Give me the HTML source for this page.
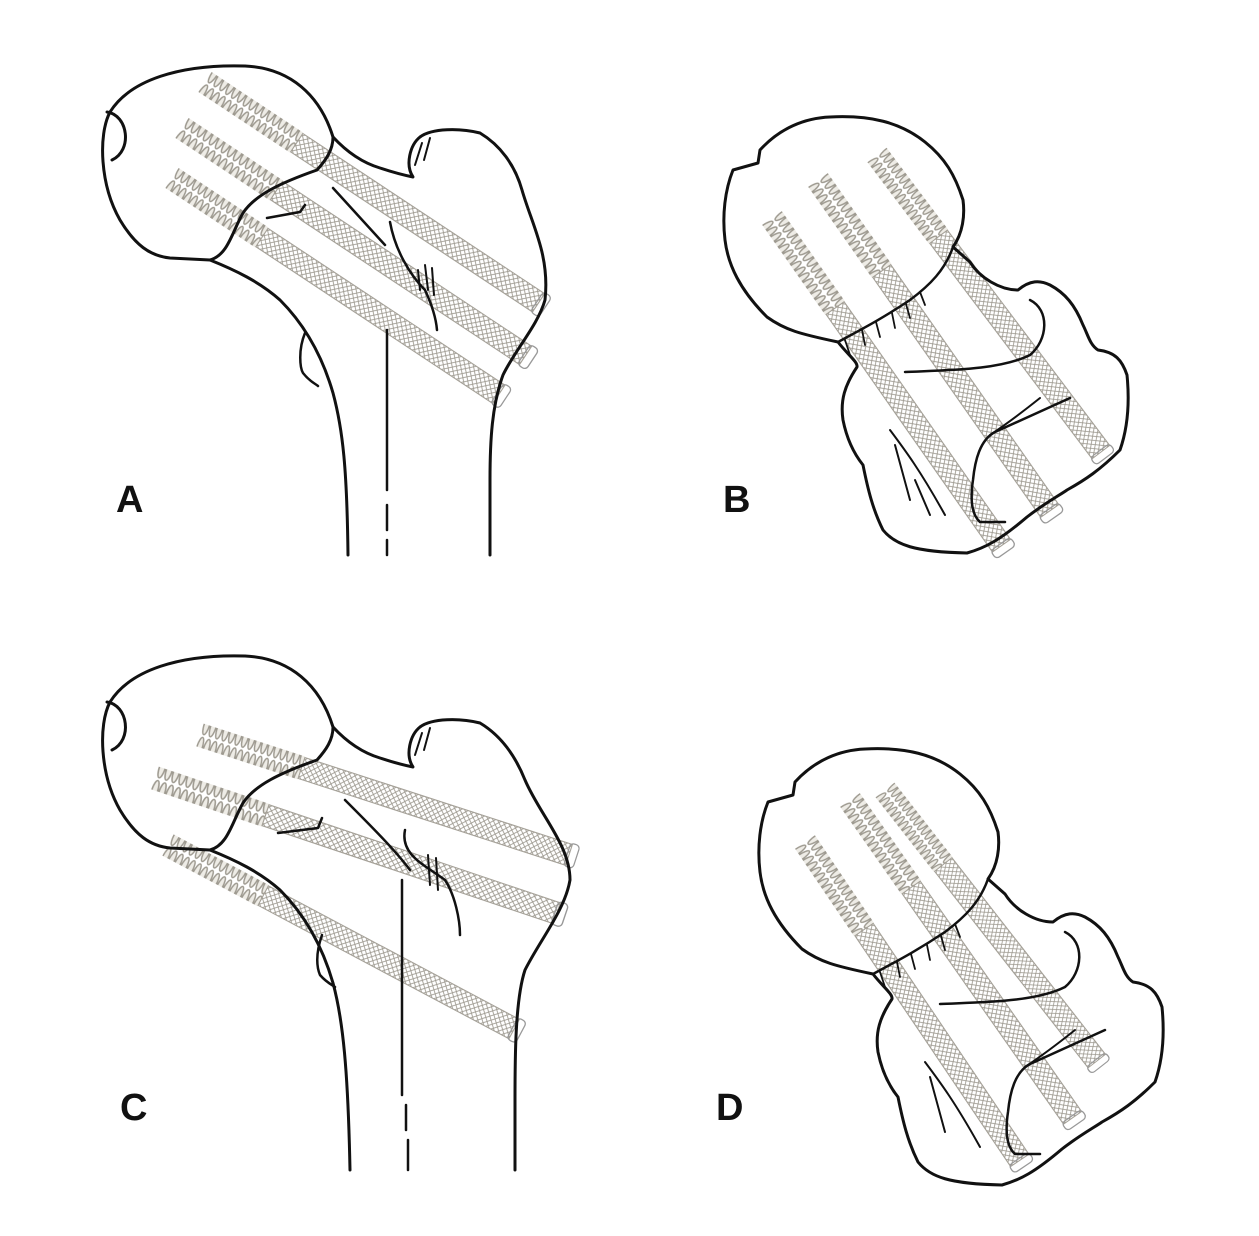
<!DOCTYPE html>
<html><head><style>
html,body{margin:0;padding:0;background:#fff;}
svg{display:block;}
text{font-family:"Liberation Sans",sans-serif;font-weight:bold;font-size:38px;fill:#111;}
</style></head><body>
<svg width="1259" height="1236" viewBox="0 0 1259 1236" xmlns="http://www.w3.org/2000/svg">
<defs>
<pattern id="hatch" patternUnits="userSpaceOnUse" width="6" height="6">
<path d="M0,0 L6,6 M6,0 L0,6" stroke="#9a968c" stroke-width="0.8"/>
</pattern>
<pattern id="thr" patternUnits="userSpaceOnUse" width="7" height="24">
<ellipse cx="3.5" cy="12" rx="2.8" ry="10.5" fill="#eeece6" stroke="#9e9a90" stroke-width="1.5"/>
</pattern>
<g id="scr">
<rect x="0" y="-12" width="110" height="24" fill="url(#thr)"/>
<rect x="110" y="-11" width="290" height="22" fill="url(#hatch)" stroke="#a5a198" stroke-width="1.1"/>
<rect x="398" y="-12" width="10" height="24" rx="4" fill="none" stroke="#999" stroke-width="1.3"/>
</g>
</defs>

<use href="#scr" transform="translate(205,82) rotate(33.5)"/>
<use href="#scr" transform="translate(182,128) rotate(33.5) scale(1.03,1)"/>
<use href="#scr" transform="translate(172,178) rotate(33.5) scale(0.98,1)"/>
<use href="#scr" transform="translate(200,735) rotate(18) scale(0.97,1)"/>
<use href="#scr" transform="translate(155,778) rotate(18.6) scale(1.06,1)"/>
<use href="#scr" transform="translate(168,845) rotate(28) scale(0.98,1)"/>
<use href="#scr" transform="translate(772,218) rotate(55) scale(1.0,1)"/>
<use href="#scr" transform="translate(818,180) rotate(55) scale(1.01,1)"/>
<use href="#scr" transform="translate(877,155) rotate(53) scale(0.93,1)"/>
<use href="#scr" transform="translate(805,842) rotate(56) scale(0.96,1)"/>
<use href="#scr" transform="translate(850,800) rotate(55) scale(0.97,1)"/>
<use href="#scr" transform="translate(885,790) rotate(52) scale(0.86,1)"/>

<g fill="none" stroke="#111" stroke-width="3" stroke-linejoin="round" stroke-linecap="round">
<g>
<path d="M333,137 C320,95 290,68 245,66 C180,64 130,80 110,112 C98,135 100,185 120,220 C135,245 150,256 170,258 L210,260 C228,255 232,232 243,213 C255,195 280,183 317,170 C326,160 333,150 333,137 Z"/>
<path d="M107,112 C128,115 133,150 112,160"/>
<path d="M333,137 C345,150 360,162 380,168 C395,173 408,176 413,177 C405,165 410,145 420,137 C432,128 460,128 480,133 C500,145 515,165 522,190 C532,225 550,255 545,300 C538,325 515,350 503,375 C492,405 490,440 490,480 L490,555"/>
<path d="M210,260 C235,270 260,282 280,300 C305,325 322,355 333,393 C343,430 347,470 348,555"/>
<path d="M305,333 C298,350 300,368 303,373 C310,382 316,384 318,386" stroke-width="2.5"/>
<path d="M387,330 L387,490 M387,505 L387,530 M387,540 L387,555" stroke-width="2.5"/>
<path d="M267,218 L300,212 L305,205" stroke-width="2.5"/>
<path d="M333,188 L385,245 M390,222 C395,250 410,275 425,290 C432,305 436,318 437,330" stroke-width="2.5"/>
<path d="M418,270 L420,290 M425,265 L428,290 M432,268 L434,295" stroke-width="2"/>
<path d="M422,143 L415,165 M430,138 L424,160" stroke-width="2"/>
</g>
<g transform="translate(0,590)">
<path d="M333,137 C320,95 290,68 245,66 C180,64 130,80 110,112 C98,135 100,185 120,220 C135,245 150,256 170,258 L210,260 C228,255 232,232 243,213 C255,195 280,183 317,170 C326,160 333,150 333,137 Z"/>
<path d="M107,112 C128,115 133,150 112,160"/>
<path d="M333,137 C345,150 360,162 380,168 C395,173 408,176 413,177 C405,165 410,145 420,137 C432,128 460,128 480,133 C500,145 515,165 525,190 C540,225 570,255 570,290 C565,320 540,350 525,380 C515,410 515,470 515,510 L515,580"/>
<path d="M210,260 C235,270 260,282 280,300 C305,325 322,355 333,393 C343,430 348,480 350,580"/>
<path d="M322,345 C315,365 317,378 320,385 C326,392 332,395 335,397" stroke-width="2.5"/>
<path d="M402,290 L402,505 M406,515 L406,540 M408,550 L408,580" stroke-width="2.5"/>
<path d="M278,243 L318,238 L322,228" stroke-width="2.5"/>
<path d="M345,210 C370,235 395,260 410,280 M405,240 C400,265 425,275 445,290 C455,305 460,330 460,345" stroke-width="2.5"/>
<path d="M428,265 L430,295 M436,268 L438,300" stroke-width="2"/>
<path d="M422,143 L415,165 M430,138 L424,160" stroke-width="2"/>
</g>
<g>
<path d="M953,247 C963,233 965,215 963,200 C955,175 945,158 925,142 C900,122 870,115 830,117 C805,118 780,128 760,150 L758,163 L733,170 C725,190 722,215 725,240 C728,265 740,290 767,317 C785,330 800,334 838,342 C848,355 858,362 857,367 C845,385 840,400 843,420 C847,440 855,455 863,465 C868,490 873,510 883,530 C895,545 915,552 967,553 C985,548 1000,540 1027,517 C1045,503 1060,495 1067,490 C1085,480 1100,470 1120,450 C1127,430 1130,405 1127,375 C1122,360 1115,352 1098,350 C1090,345 1088,335 1083,325 C1075,305 1065,293 1050,285 C1040,280 1030,280 1018,290 C1000,290 980,278 970,262 Z"/>
<path d="M838,342 C860,330 880,320 910,300 C930,285 945,270 953,247" stroke-width="2.5"/>
<path d="M1030,300 C1050,310 1048,340 1030,355 C1000,370 950,370 905,372" stroke-width="2.5"/>
<path d="M1070,398 L995,432 C980,440 975,460 973,480 C970,500 972,515 980,522 L1005,522" stroke-width="2.5"/>
<path d="M1040,398 C1025,410 1005,425 990,435" stroke-width="2"/>
<path d="M890,430 C905,450 920,470 945,515 M895,445 L910,500 M915,480 L930,515" stroke-width="2"/>
<path d="M850,355 L845,340 M865,345 L862,330 M880,337 L876,322 M895,328 L892,313 M910,318 L906,304 M925,305 L920,292" stroke-width="1.8"/>
</g>
<g transform="translate(35,632)">
<path d="M953,247 C963,233 965,215 963,200 C955,175 945,158 925,142 C900,122 870,115 830,117 C805,118 780,128 760,150 L758,163 L733,170 C725,190 722,215 725,240 C728,265 740,290 767,317 C785,330 800,334 838,342 C848,355 858,362 857,367 C845,385 840,400 843,420 C847,440 855,455 863,465 C868,490 873,510 883,530 C895,545 915,552 967,553 C985,548 1000,540 1027,517 C1045,503 1060,495 1067,490 C1085,480 1100,470 1120,450 C1127,430 1130,405 1127,375 C1122,360 1115,352 1098,350 C1090,345 1088,335 1083,325 C1075,305 1065,293 1050,285 C1040,280 1030,280 1018,290 C1000,290 980,278 970,262 Z"/>
<path d="M838,342 C860,330 880,320 910,300 C930,285 945,270 953,247" stroke-width="2.5"/>
<path d="M1030,300 C1050,310 1048,340 1030,355 C1000,370 950,370 905,372" stroke-width="2.5"/>
<path d="M1070,398 L995,432 C980,440 975,460 973,480 C970,500 972,515 980,522 L1005,522" stroke-width="2.5"/>
<path d="M1040,398 C1025,410 1005,425 990,435" stroke-width="2"/>
<path d="M890,430 C905,450 920,470 945,515 M895,445 L910,500" stroke-width="2"/>
<path d="M850,355 L845,340 M865,345 L862,330 M880,337 L876,322 M895,328 L892,313 M910,318 L906,304 M925,305 L920,292" stroke-width="1.8"/>
</g>
</g>

<text x="116" y="512">A</text>
<text x="723" y="512">B</text>
<text x="120" y="1120">C</text>
<text x="716" y="1120">D</text>
</svg>
</body></html>
